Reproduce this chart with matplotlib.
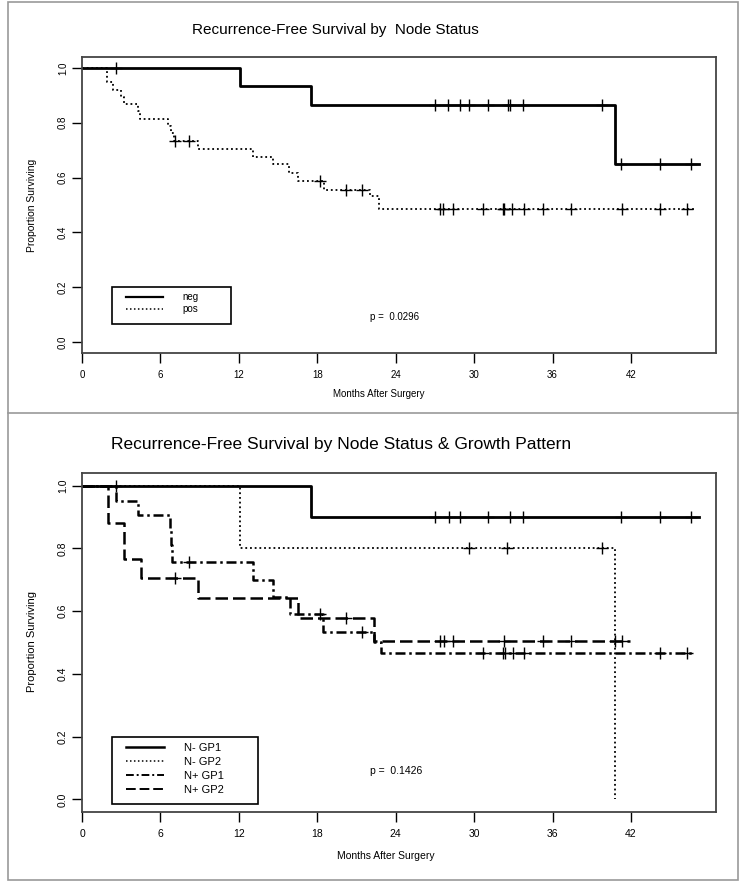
import numpy as np
import matplotlib
matplotlib.use("Agg")
import matplotlib.pyplot as plt
from matplotlib.patches import Rectangle
from matplotlib.lines import Line2D

plt.rcParams['font.family'] = ['Liberation Sans', 'DejaVu Sans']

# ---- top panel: node status ----
neg_events = [12.1, 17.5, 40.8]
neg_surv = [0.933, 0.866, 0.65]
neg_cens = [2.6, 27.0, 28.0, 28.9, 29.6, 31.05, 32.6, 32.75, 33.75, 39.75, 41.25, 44.2, 46.6]
neg_end = 47.2

pos_events = [1.93, 2.4, 3.0, 3.2, 4.3, 4.45, 6.6, 6.8, 7.0, 8.9, 13.1, 14.6,
              15.8, 16.5, 18.5, 22.0, 22.7]
pos_surv = [0.947, 0.921, 0.895, 0.868, 0.842, 0.815, 0.789, 0.763, 0.733, 0.704,
            0.676, 0.648, 0.617, 0.587, 0.556, 0.532, 0.486]
pos_cens = [7.1, 8.15, 18.2, 20.2, 21.4, 27.4, 27.6, 28.4, 30.7, 32.2, 32.3, 32.9,
            33.8, 35.3, 37.4, 41.3, 44.2, 46.3]
pos_end = 47.0

# ---- bottom panel: node status & growth pattern ----
ngp1_events = [17.5]
ngp1_surv = [0.90]
ngp1_cens = [2.6, 27.0, 28.05, 28.9, 31.05, 32.75, 33.75, 41.25, 44.2, 46.6]
ngp1_end = 47.2

ngp2_events = [12.1, 40.8]
ngp2_surv = [0.80, 0.0]
ngp2_cens = [29.6, 32.5, 39.8]
ngp2_end = 40.8

pgp1_events = [2.6, 4.3, 6.7, 6.8, 6.9, 13.1, 14.6, 15.9, 18.4, 22.3, 22.9]
pgp1_surv = [0.952, 0.905, 0.857, 0.81, 0.755, 0.70, 0.645, 0.59, 0.533, 0.50, 0.467]
pgp1_cens = [8.2, 18.2, 21.4, 30.7, 32.2, 32.35, 33.0, 33.8, 44.2, 46.3]
pgp1_end = 46.9

pgp2_events = [2.0, 3.2, 4.5, 8.9, 16.5, 22.3]
pgp2_surv = [0.882, 0.765, 0.706, 0.642, 0.578, 0.505]
pgp2_cens = [7.1, 20.2, 27.4, 27.7, 28.4, 32.3, 35.3, 37.4, 40.75, 41.3]
pgp2_end = 41.9

xticks = [0, 6, 12, 18, 24, 30, 36, 42]
yticks = [0.0, 0.2, 0.4, 0.6, 0.8, 1.0]


def km(ax, events, surv, cens, end, ls, lw):
    t = [0] + list(events) + [end]
    s = [1.0] + list(surv) + [surv[-1]]
    ax.step(t, s, where='post', color='black', ls=ls, lw=lw)
    ev = np.array(events)
    sv = np.array([1.0] + list(surv))
    cy = [sv[np.searchsorted(ev, c, side='right')] for c in cens]
    ax.plot(cens, cy, ls='none', marker='+', color='black', ms=9, mew=1.0)


def frame(ax, fs):
    ax.set_xlim(0, 48.5)
    ax.set_ylim(-0.04, 1.04)
    ax.set_xticks(xticks)
    ax.set_xticklabels([str(v) for v in xticks])
    ax.set_yticks(yticks)
    ax.set_yticklabels(['%.1f' % v for v in yticks])
    ax.tick_params(axis='y', labelrotation=90, length=7, width=1, labelsize=fs, pad=3)
    ax.tick_params(axis='x', length=7, width=1, labelsize=fs, pad=5)
    for tl in ax.get_yticklabels():
        tl.set_va('center')
    for sp in ax.spines.values():
        sp.set_color('#444444')
        sp.set_linewidth(1.3)


W, H = 748, 882
fig = plt.figure(figsize=(W / 100, H / 100), dpi=100)


def fx(x):
    return x / W


def fy(y):
    return 1 - y / H


# page border and divider
fig.patches.append(Rectangle((fx(8), fy(880)), fx(730), 878 / H, transform=fig.transFigure,
                             fill=False, edgecolor='#999999', lw=1.2))
fig.add_artist(Line2D([fx(8), fx(738)], [fy(413), fy(413)], transform=fig.transFigure,
                      color='#999999', lw=1.2))

dotted = (0, (1, 1.6))
dashdot = (0, (4, 1.5, 1, 1.5))
dashed = (0, (5, 2))

# top
ax1 = fig.add_axes([fx(82), fy(353), 634 / W, 296 / H])
km(ax1, neg_events, neg_surv, neg_cens, neg_end, '-', 2.0)
km(ax1, pos_events, pos_surv, pos_cens, pos_end, dotted, 1.3)
frame(ax1, 7)
fig.text(fx(335), fy(30), 'Recurrence-Free Survival by  Node Status', ha='center', va='center', fontsize=11)
fig.text(fx(379), fy(394), 'Months After Surgery', ha='center', va='center', fontsize=7)
fig.text(fx(32), fy(205), 'Proportion Surviving', ha='center', va='center', rotation=90, fontsize=7.5)
ax1.text(22.0, 0.09, 'p =  0.0296', fontsize=7, va='center')
ax1.add_patch(Rectangle((30 / 634, (353 - 324) / 296), 119 / 634, 37 / 296, transform=ax1.transAxes,
                        fill=False, edgecolor='black', lw=1.2, zorder=5))
leg1 = ax1.legend([Line2D([], [], color='black', lw=1.6), Line2D([], [], color='black', ls=dotted, lw=1.1)],
                  ['neg', 'pos'], loc='upper left', bbox_to_anchor=(44 / 634, (353 - 292) / 296),
                  frameon=False, fontsize=7, handlelength=3.8, handletextpad=2.0,
                  labelspacing=0.2, borderpad=0, borderaxespad=0)

# bottom
ax2 = fig.add_axes([fx(82), fy(812), 634 / W, 339 / H])
km(ax2, ngp1_events, ngp1_surv, ngp1_cens, ngp1_end, '-', 2.0)
km(ax2, ngp2_events, ngp2_surv, ngp2_cens, ngp2_end, dotted, 1.3)
km(ax2, pgp1_events, pgp1_surv, pgp1_cens, pgp1_end, dashdot, 1.8)
km(ax2, pgp2_events, pgp2_surv, pgp2_cens, pgp2_end, dashed, 1.8)
frame(ax2, 7.5)
fig.text(fx(341), fy(444), 'Recurrence-Free Survival by Node Status & Growth Pattern', ha='center', va='center', fontsize=12.5)
fig.text(fx(386), fy(856), 'Months After Surgery', ha='center', va='center', fontsize=7.5)
fig.text(fx(32), fy(642), 'Proportion Surviving', ha='center', va='center', rotation=90, fontsize=8)
ax2.text(22.0, 0.09, 'p =  0.1426', fontsize=7.5, va='center')
ax2.add_patch(Rectangle((30 / 634, (812 - 804) / 339), 146 / 634, 67 / 339, transform=ax2.transAxes,
                        fill=False, edgecolor='black', lw=1.2, zorder=5))
h2 = [Line2D([], [], color='black', lw=1.8),
      Line2D([], [], color='black', ls=dotted, lw=1.1),
      Line2D([], [], color='black', ls=dashdot, lw=1.4),
      Line2D([], [], color='black', ls=dashed, lw=1.4)]
ax2.legend(h2, ['N- GP1', 'N- GP2', 'N+ GP1', 'N+ GP2'], loc='upper left',
           bbox_to_anchor=(44 / 634, (812 - 743) / 339), frameon=False, fontsize=8,
           handlelength=3.4, handletextpad=1.8, labelspacing=0.35, borderpad=0, borderaxespad=0)

fig.savefig('out.png', dpi=100)
